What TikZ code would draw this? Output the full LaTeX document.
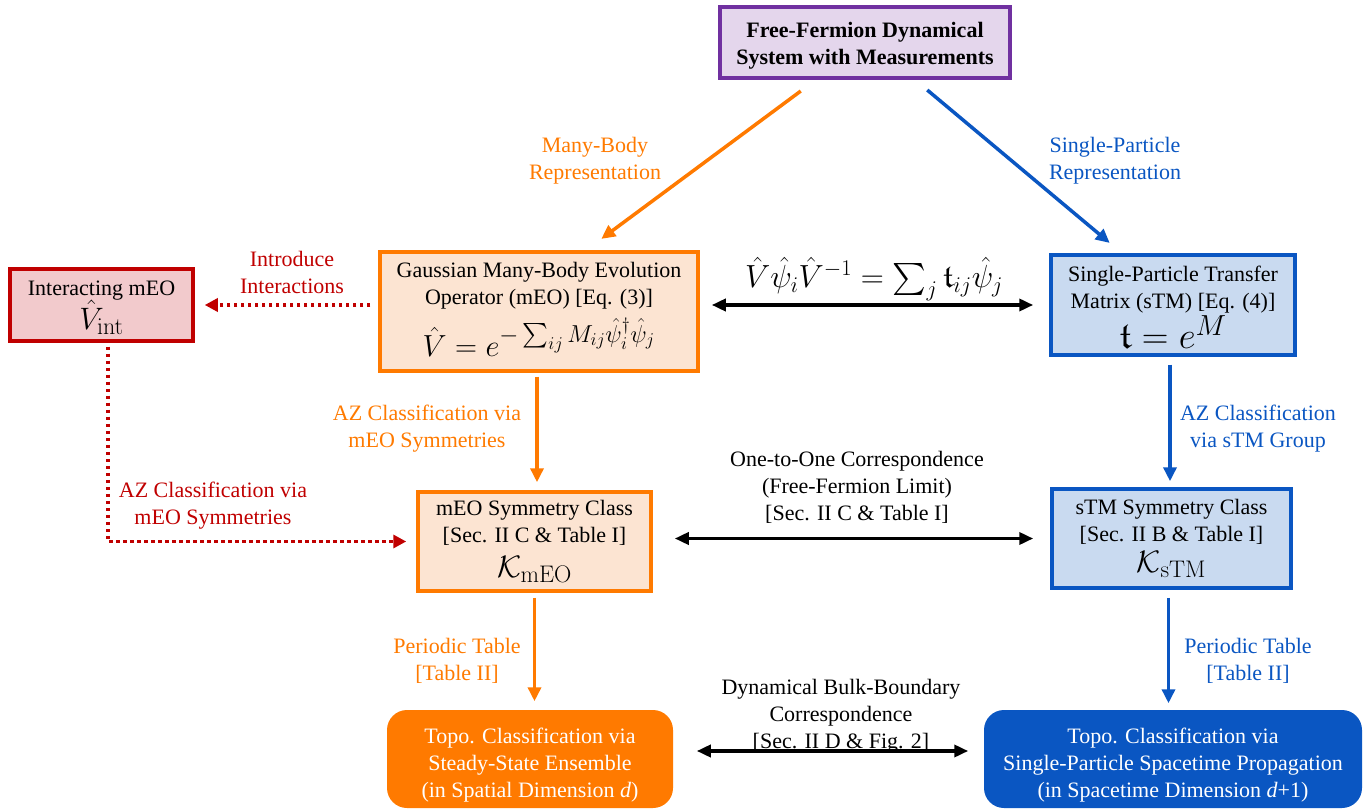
\RequirePackage{fix-cm}
\documentclass[tikz,border=0pt]{standalone}
\usepackage{amsmath,amssymb}
\usepackage[no-math]{fontspec}
\setmainfont{Liberation Serif}
\usetikzlibrary{arrows.meta,calc}
\DeclareMathSizes{31}{31}{24}{18}
\DeclareMathSizes{30.5}{30.5}{24.5}{18}
\DeclareMathSizes{32}{32}{22.4}{16}
\DeclareMathSizes{37}{37}{29}{22}
\definecolor{cpurple}{HTML}{7030A0}
\definecolor{cpurplefill}{HTML}{E4D6EC}
\definecolor{corange}{HTML}{FF7A00}
\definecolor{corangefill}{HTML}{FCE4D2}
\definecolor{cblue}{HTML}{0A56C2}
\definecolor{cbluefill}{HTML}{C9DAF0}
\definecolor{cred}{HTML}{C00000}
\definecolor{credfill}{HTML}{F2CACC}
\newcommand\fs{\fontsize{22}{27}\selectfont}
\newcommand\mfs{\fontsize{31}{34}\selectfont}
\newcommand\vfs{\fontsize{30.5}{34}\selectfont}
\newcommand\tfs{\fontsize{37}{40}\selectfont}
\newcommand\efs{\fontsize{32}{36}\selectfont}
\begin{document}
\begin{tikzpicture}[x=1pt,y=-1pt,
  box/.style={draw, line width=3.5pt, align=center, inner sep=0pt, font=\fs},
  lbl/.style={align=center, inner sep=0pt, font=\fs},
  oarr/.style={draw=corange, line width=3.5pt, -{Triangle[length=14pt,width=13pt]}},
  barr/.style={draw=cblue, line width=3.5pt, -{Triangle[length=14pt,width=13pt]}},
  karr/.style={draw=black, line width=3.5pt, {Triangle[length=14pt,width=12pt]}-{Triangle[length=14pt,width=12pt]}},
  rarr/.style={draw=cred, line width=3.5pt, dash pattern=on 3.5pt off 3.5pt, -{Triangle[length=13pt,width=13pt]}}
]
\useasboundingbox (0,0) rectangle (1369,810);

% boxes
\node[box, draw=cpurple, fill=cpurplefill, minimum width=290pt, minimum height=71pt, font=\fs\bfseries] (top) at (865,42.5)
  {\rule{0pt}{22pt}Free-Fermion Dynamical\\System with Measurements};
\node[box, draw=corange, fill=corangefill, minimum width=318pt, minimum height=119pt] (meo) at (539,311.5)
  {Gaussian Many-Body Evolution\\Operator (mEO) [Eq. (3)]\\[8pt]{\vfs $\hat V = e^{-\sum_{ij} M_{ij}\hat\psi_i^\dagger\hat\psi_j}$\rule[-5pt]{0pt}{0pt}}};
\node[box, draw=cblue, fill=cbluefill, minimum width=244pt, minimum height=100pt] (stm) at (1173,305)
  {\rule{0pt}{20pt}Single-Particle Transfer\\Matrix (sTM) [Eq. (4)]\\[2pt]{\tfs $\mathfrak{t} = e^{M}$}};
\node[box, draw=cred, fill=credfill, minimum width=183pt, minimum height=72pt] (int) at (101.5,305)
  {\rule{0pt}{20pt}Interacting mEO\\[-1pt]{\mfs $\hat V_{\mathrm{int}}$}};
\node[box, draw=corange, fill=corangefill, minimum width=233pt, minimum height=99pt] (meosym) at (534.5,541.5)
  {mEO Symmetry Class\\{[}Sec. II C \& Table I{]}\\[8pt]{\mfs $\mathcal{K}_{\mathrm{mEO}}$}};
\node[box, draw=cblue, fill=cbluefill, minimum width=239pt, minimum height=99pt] (stmsym) at (1171.5,538.5)
  {sTM Symmetry Class\\{[}Sec. II B \& Table I{]}\\[4pt]{\mfs $\mathcal{K}_{\mathrm{sTM}}$}};
\node[box, draw=none, fill=corange, text=white, rounded corners=20pt, minimum width=286pt, minimum height=98pt] (botl) at (530,759)
  {\rule{0pt}{28pt}Topo. Classification via\\Steady-State Ensemble\\(in Spatial Dimension \textit{d})};
\node[box, draw=none, fill=cblue, text=white, rounded corners=20pt, minimum width=378pt, minimum height=98pt] (botr) at (1173,759)
  {\rule{0pt}{28pt}Topo. Classification via\\Single-Particle Spacetime Propagation\\(in Spacetime Dimension \textit{d}+1)};

% connectors
\draw[oarr, shorten <=19pt, shorten >=19pt] ([xshift=-49pt]top.south) -- ([xshift=47pt]meo.north);
\draw[barr, shorten <=16pt, shorten >=16pt] ([xshift=50pt]top.south) -- ([xshift=-51pt]stm.north);
\draw[rarr, shorten <=8pt, shorten >=10pt] (meo.west |- int.east) -- (int.east);
\draw[karr, shorten <=12pt, shorten >=16pt] (meo.east |- stm.west) -- (stm.west);
\draw[oarr, shorten <=4pt, shorten >=8pt] ([xshift=-2pt]meo.south) -- ([xshift=-2pt]meo.south |- meosym.north);
\draw[barr, shorten <=8pt, shorten >=6pt] ([xshift=-3pt]stm.south) -- ([xshift=-3pt]stm.south |- stmsym.north);
\draw[karr, shorten <=22pt, shorten >=17pt] (meosym.east |- stmsym.west) -- (stmsym.west);
\draw[rarr, shorten <=4pt, shorten >=10pt] ([xshift=6.5pt]int.south) |- (meosym.west);
\draw[oarr, shorten <=5pt, shorten >=7pt] (meosym.south) -- (meosym.south |- botl.north);
\draw[barr, shorten <=8pt, shorten >=5pt] ([xshift=-3pt]stmsym.south) -- ([xshift=-3pt]stmsym.south |- botr.north);
\draw[karr, shorten <=22pt, shorten >=14pt] ([yshift=8pt]botl.east) -- ([yshift=8pt]botl.east -| botr.west);

% labels
\node[lbl, text=corange] (lmb) at (595,161) {Many-Body\\Representation};
\node[lbl, text=cblue] (lsp) at (1115,161) {Single-Particle\\Representation};
\node[lbl, text=cred] (lii) at (292,272) {Introduce\\Interactions};
\node[lbl, font=\efs] (leq) at (874,279) {$\hat V\hat\psi_i\hat V^{-1} = \sum_j \mathfrak{t}_{ij}\hat\psi_j$};
\node[lbl, text=corange] (laz1) at (427,429) {AZ Classification via\\mEO Symmetries};
\node[lbl, text=cblue] (laz2) at (1258,429) {AZ Classification\\via sTM Group};
\node[lbl] (lone) at (857,487) {One-to-One Correspondence\\(Free-Fermion Limit)\\{[}Sec. II C \& Table I{]}};
\node[lbl, text=cred] (laz3) at (213,506) {AZ Classification via\\mEO Symmetries};
\node[lbl, text=corange] (lpt1) at (457,661) {Periodic Table\\{[}Table II{]}};
\node[lbl, text=cblue] (lpt2) at (1248,661) {Periodic Table\\{[}Table II{]}};
\node[lbl] (ldbb) at (841,716) {Dynamical Bulk-Boundary\\Correspondence\\{[}Sec. II D \& Fig. 2{]}};
\end{tikzpicture}
\end{document}
